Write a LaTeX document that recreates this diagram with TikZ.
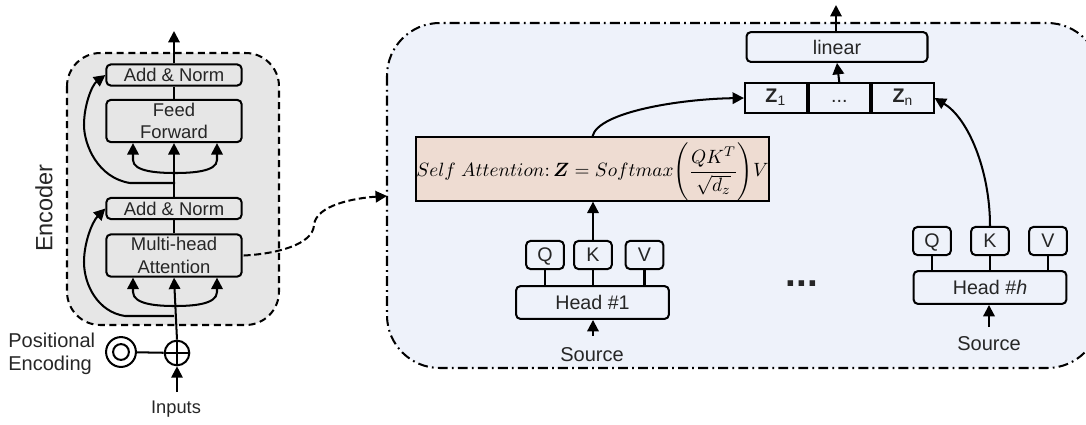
\documentclass[tikz,border=0pt]{standalone}
\usepackage{amsmath}
\usepackage{amssymb}
\usepackage{fontspec}
\setmainfont{Liberation Sans}
\usetikzlibrary{arrows.meta}
\usetikzlibrary{calc}
\definecolor{encgray}{HTML}{E6E6E6}
\definecolor{headblue}{HTML}{EEF2FA}
\definecolor{attnpink}{HTML}{EEDCD2}
\definecolor{inkgray}{HTML}{262626}
\tikzset{
	line/.style={line width=1.15pt,black},
	arrow/.style={line,-{Triangle[length=6.5pt,width=6.5pt]}},
	block/.style={draw,line width=1.15pt,rounded corners=2.5pt,inner sep=0pt,align=center,text=inkgray,font=\fontsize{11.2}{12.8}\selectfont},
	encblock/.style={block,minimum width=77pt,font=\fontsize{10.5}{12.8}\selectfont},
	keybox/.style={block,minimum width=21.5pt,minimum height=16pt,text height=7.7pt,text depth=0pt},
	headbox/.style={block,minimum width=87pt,minimum height=18.7pt},
	cell/.style={draw,line width=1.15pt,inner sep=0pt,minimum height=17pt,text height=7.5pt,text depth=2pt,text=inkgray,font=\fontsize{11.2}{12.8}\selectfont},
	label/.style={inner sep=0pt,align=left,text=inkgray,font=\fontsize{11.4}{13.4}\selectfont},
}
\begin{document}
\begin{tikzpicture}[x=0.02cm,y=-0.02cm]
	\useasboundingbox (0,0) rectangle (1086,424);

	% -- Panels
	\begin{scope}
		\clip (0,0) rectangle (1086,424);
		\draw[line width=1.15pt,fill=headblue,rounded corners=30pt,dash pattern=on 5.6pt off 2.4pt on 1pt off 2.4pt] (387,23) rectangle (1100,368);
	\end{scope}
	\draw[line width=1.15pt,fill=encgray,rounded corners=19pt,dash pattern=on 4pt off 2.6pt] (67,53) rectangle (279,325);

	% -- Encoder
	\node[encblock,minimum height=12pt] (normtop) at (174,75) {Add \& Norm};
	\node[encblock,minimum height=24pt] (feed) at (174,121) {Feed\\Forward};
	\node[encblock,minimum height=12pt] (normlow) at (174,208.5) {Add \& Norm};
	\node[encblock,minimum height=24pt] (multi) at (174,255.5) {Multi-head\\Attention};
	\node[label,rotate=90,font=\fontsize{13.4}{15}\selectfont] (enclabel) at (44,208) {Encoder};
	\node[label,anchor=west] (poslabel) at (8,354) {Positional\\Encoding};
	\node[label,font=\fontsize{10.4}{12}\selectfont] (inputs) at (176,409) {Inputs};
	\node[draw,circle,line width=1.15pt,minimum size=17pt,inner sep=0pt] (posouter) at (121,352) {};
	\node[draw,circle,line width=1.15pt,minimum size=9pt,inner sep=0pt] (posinner) at (121,352) {};
	\node[draw,circle,line width=1.15pt,minimum size=14pt,inner sep=0pt] (plus) at (177,353) {};
	\coordinate (outtop) at (174,31);
	\coordinate (instart) at (177,392);
	\coordinate (skiplow) at (174,316);
	\coordinate (skiptop) at (175,183);

	\draw[arrow] (normtop.north -| outtop) -- (outtop);
	\draw[line] (feed.north) -- (feed.north |- normtop.south);
	\draw[arrow] (normlow.north) -- (feed.south);
	\draw[line] (multi.north) -- (normlow.south);
	\draw[arrow] (plus.north) -- (multi.south);
	\draw[arrow] (instart) -- (plus.south);
	\draw[line] (posouter) -- (plus);
	\draw[line] (plus.north) -- (plus.south);
	\draw[line] (plus.west) -- (plus.east);

	% -- Skip lines
	\draw[arrow] (skiptop) -- (130,183) .. controls (98,178) and (84,145) .. (84,125) .. controls (84,105) and (92,85) .. (normtop.west);
	\draw[arrow] (skiplow) -- (125,316) .. controls (98,312) and (84,285) .. (84,262) .. controls (84,243) and (92,222) .. (normlow.west);

	% -- Splits
	\draw[arrow] (175,173) .. controls (160,173) and (133,172) .. (133,160) -- ($(feed.south)+(-41,0)$);
	\draw[arrow] (175,173) .. controls (190,173) and (217,172) .. (217,160) -- ($(feed.south)+(43,0)$);
	\draw[arrow] (175,306) .. controls (160,306) and (133,305) .. (133,292) -- ($(multi.south)+(-41,0)$);
	\draw[arrow] (175,306) .. controls (190,306) and (217,305) .. (217,292) -- ($(multi.south)+(43,0)$);

	% -- Dashed connector
	\coordinate (attnin) at (387,196);
	\draw[line,dash pattern=on 4pt off 2pt,-{Triangle[length=6.5pt,width=6.5pt]}] (multi.east) ++(1,0) .. controls (275,254) and (313,245) .. (314,225) .. controls (316,205) and (355,198) .. (attnin);

	% -- Head 1
	\node[draw,line width=1.15pt,fill=attnpink,inner sep=0pt,minimum width=201pt,minimum height=36pt,text height=22pt,text depth=13pt] (attn) at (592.5,169) {\fontsize{11}{13}\selectfont$Self\ Attention{:}\,\boldsymbol{Z}=Softmax\Bigg(\dfrac{QK^{T}}{\sqrt{d_z}}\Bigg)V$};
	\node[keybox] (qa) at (545,255) {Q};
	\node[keybox] (ka) at (593,255) {K};
	\node[keybox] (va) at (644.5,255) {V};
	\node[headbox] (heada) at (592.5,302.5) {Head \#1};
	\node[label] (srca) at (592,355) {Source};
	\coordinate (srcaup) at (593,336);
	\draw[line] (qa) -- (qa |- heada.north);
	\draw[line] (ka) -- (ka |- heada.north);
	\draw[line] (va) -- (va |- heada.north);
	\draw[arrow] (ka.north) -- (attn.south -| ka.north);
	\draw[arrow] (srcaup) -- (srcaup |- heada.south);

	% -- Head h
	\node[keybox] (qb) at (932,241) {Q};
	\node[keybox] (kb) at (990,241) {K};
	\node[keybox] (vb) at (1048,241) {V};
	\node[headbox] (headb) at (990,287.5) {Head \#\textit{h}};
	\node[label] (srcb) at (989,344) {Source};
	\coordinate (srcbup) at (989,327);
	\draw[line] (qb) -- (qb |- headb.north);
	\draw[line] (kb) -- (kb |- headb.north);
	\draw[line] (vb) -- (vb |- headb.north);
	\draw[arrow] (srcbup) -- (srcbup |- headb.south);
	\node[label,font=\fontsize{22}{24}\bfseries] (dots) at (802,284) {...};

	% -- Output row
	\node[cell,minimum width=35pt,anchor=west] (zone) at (744,98) {\textbf{Z}\textsubscript{1}};
	\node[cell,minimum width=35pt,anchor=west] (zdots) at (zone.east) {...};
	\node[cell,minimum width=35pt,anchor=west] (zn) at (zdots.east) {\textbf{Z}\textsubscript{n}};
	\node[block,minimum width=103pt,minimum height=17pt] (linear) at (837,47) {linear};
	\coordinate (outright) at (836,5);
	\draw[arrow] (zdots.north) -- (linear.south);
	\draw[arrow] (linear.north -| outright) -- (outright);
	\draw[arrow] (attn.north) .. controls (598,112) and (680,99) .. (zone.west);
	\draw[arrow] (kb.north) .. controls (990,170) and (968,118) .. (zn.east);
\end{tikzpicture}
\end{document}
